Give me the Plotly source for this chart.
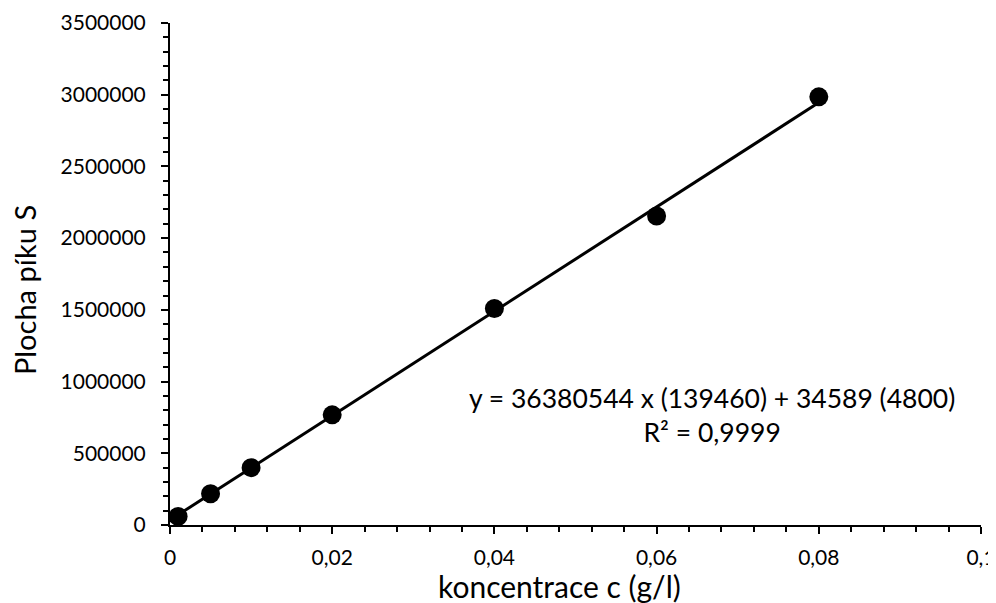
import numpy as np
import plotly.graph_objects as go

# Data
konc = [0.001, 0.005, 0.01, 0.02, 0.04, 0.06, 0.08]
plocha = [60000, 218000, 400000, 768000, 1510000, 2155000, 2985000]

# Linear fit parameters (from the equation shown in the chart)
fit_slope = 36380544
fit_intercept = 34589
eq_text = "y = 36380544 x (139460) + 34589 (4800)<br>R² = 0,9999"

x_title = "koncentrace c (g/l)"
y_title = "Plocha píku S"

x_tickvals = [0, 0.02, 0.04, 0.06, 0.08, 0.1]
x_ticktext = ["0", "0,02", "0,04", "0,06", "0,08", "0,1"]
y_tickvals = [0, 500000, 1000000, 1500000, 2000000, 2500000, 3000000, 3500000]
y_ticktext = ["0", "500000", "1000000", "1500000", "2000000", "2500000", "3000000", "3500000"]

trend_x = np.array([min(konc), max(konc)])
trend_y = fit_slope * trend_x + fit_intercept

FONT = "Lato"

fig = go.Figure()
fig.add_trace(go.Scatter(x=trend_x, y=trend_y, mode="lines",
                         line=dict(color="black", width=3), showlegend=False))
fig.add_trace(go.Scatter(x=konc, y=plocha, mode="markers",
                         marker=dict(color="black", size=19), showlegend=False))

axis_common = dict(showgrid=False, zeroline=False, showline=True, linecolor="black",
                   linewidth=2, ticks="outside", ticklen=7, tickwidth=2, tickcolor="black",
                   automargin=False, ticklabeloverflow="allow",
                   tickfont=dict(family=FONT, size=21, color="black"))

fig.update_xaxes(range=[0, 0.1], tickvals=x_tickvals, ticktext=x_ticktext,
                 ticklabelstandoff=6,
                 minor=dict(ticks="outside", dtick=0.004, ticklen=5, tickwidth=2, tickcolor="black"),
                 **axis_common)
fig.update_yaxes(range=[0, 3500000], tickvals=y_tickvals, ticktext=y_ticktext,
                 ticklabelstandoff=11,
                 minor=dict(ticks="outside", dtick=100000, ticklen=5, tickwidth=2, tickcolor="black"),
                 **axis_common)

# axis titles (placed as in the reference, slightly off-centre)
fig.add_annotation(x=0.48, y=-0.122, xref="paper", yref="paper", text=x_title, showarrow=False,
                   xanchor="center", yanchor="middle",
                   font=dict(family=FONT, size=30, color="black"))
fig.add_annotation(x=-0.18, y=0.468, xref="paper", yref="paper", text=y_title, showarrow=False,
                   xanchor="center", yanchor="middle", textangle=-90,
                   font=dict(family=FONT, size=29, color="black"))

fig.add_annotation(x=0.0668, y=768000, xref="x", yref="y", text=eq_text, showarrow=False,
                   xanchor="center", yanchor="middle", align="center",
                   font=dict(family=FONT, size=26.5, color="black"))

# page has an 8px body margin, so the figure is sized to fit the 996x603 window
fig.update_layout(width=988, height=595, margin=dict(l=162, r=15, t=15, b=78),
                  plot_bgcolor="white", paper_bgcolor="white")

fig.write_html("out.html")
